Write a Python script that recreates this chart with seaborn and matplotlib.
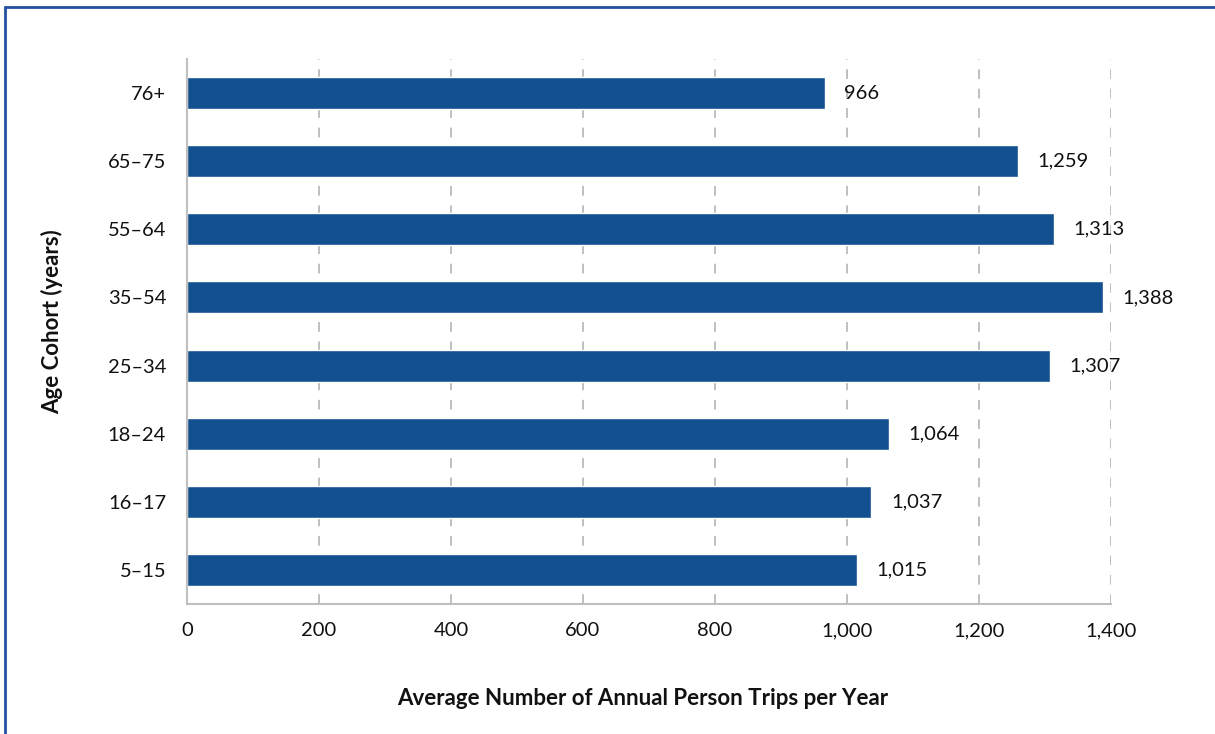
import matplotlib
matplotlib.use("Agg")
import matplotlib.pyplot as plt
import matplotlib.ticker as mticker
from matplotlib.lines import Line2D
import seaborn as sns
import pandas as pd

# Data (top to bottom as drawn)
age_cohorts = ["76+", "65–75", "55–64", "35–54", "25–34", "18–24", "16–17", "5–15"]
avg_trips = [966, 1259, 1313, 1388, 1307, 1064, 1037, 1015]
x_ticks = [0, 200, 400, 600, 800, 1000, 1200, 1400]

BAR_COLOR = "#12508F"
BORDER_COLOR = "#2152A0"
GRID_COLOR = "#BFBFBF"
TEXT_COLOR = "#111111"

sns.set_style("white")
plt.rcParams["font.family"] = ["Lato", "DejaVu Sans"]

df = pd.DataFrame({"cohort": age_cohorts, "trips": avg_trips})

fig = plt.figure(figsize=(12.15, 7.34), dpi=100)
left, right, top, bottom = 187, 1111, 59, 604
ax = fig.add_axes([left / 1215, 1 - bottom / 734, (right - left) / 1215, (bottom - top) / 734])

sns.barplot(data=df, x="trips", y="cohort", order=age_cohorts, orient="h",
            color=BAR_COLOR, saturation=1, width=0.47, ax=ax, zorder=3)

ax.set_xlim(0, 1400)
ax.set_ylim(len(age_cohorts) - 0.5, -0.5)
ax.set_xticks(x_ticks)
ax.xaxis.set_major_formatter(mticker.FuncFormatter(lambda v, p: f"{int(v):,}"))

# dashed vertical gridlines (skip 0)
for t in x_ticks[1:]:
    ax.axvline(t, color=GRID_COLOR, linestyle=(0, (5, 5)), linewidth=1.4, zorder=1)

for c in ax.containers:
    ax.bar_label(c, labels=[f"{v:,}" for v in avg_trips], padding=14,
                 fontsize=14.5, color=TEXT_COLOR)

for side in ["top", "right"]:
    ax.spines[side].set_visible(False)
for side in ["left", "bottom"]:
    ax.spines[side].set_color(GRID_COLOR)
    ax.spines[side].set_linewidth(1.5)
    ax.spines[side].set_zorder(4)

ax.tick_params(axis="x", length=0, pad=13, labelsize=14.5, labelcolor=TEXT_COLOR)
ax.tick_params(axis="y", length=0, pad=15, labelsize=14.5, labelcolor=TEXT_COLOR)

ax.set_xlabel("Average Number of Annual Person Trips per Year", fontsize=16,
              fontweight="bold", color=TEXT_COLOR)
ax.xaxis.set_label_coords((643 - left) / (right - left), -(688 - bottom) / (bottom - top))
ax.set_ylabel("Age Cohort (years)", fontsize=16, fontweight="bold", color=TEXT_COLOR)
ax.yaxis.set_label_coords((63 - left) / (right - left), (bottom - 322) / (bottom - top))

# outer border: top and left only
fig.add_artist(Line2D([4.5 / 1215, 1.0], [1 - 7 / 734, 1 - 7 / 734],
                      transform=fig.transFigure, color=BORDER_COLOR, linewidth=2))
fig.add_artist(Line2D([4.5 / 1215, 4.5 / 1215], [0, 1 - 7 / 734],
                      transform=fig.transFigure, color=BORDER_COLOR, linewidth=2))

fig.savefig("out.png", dpi=100)
